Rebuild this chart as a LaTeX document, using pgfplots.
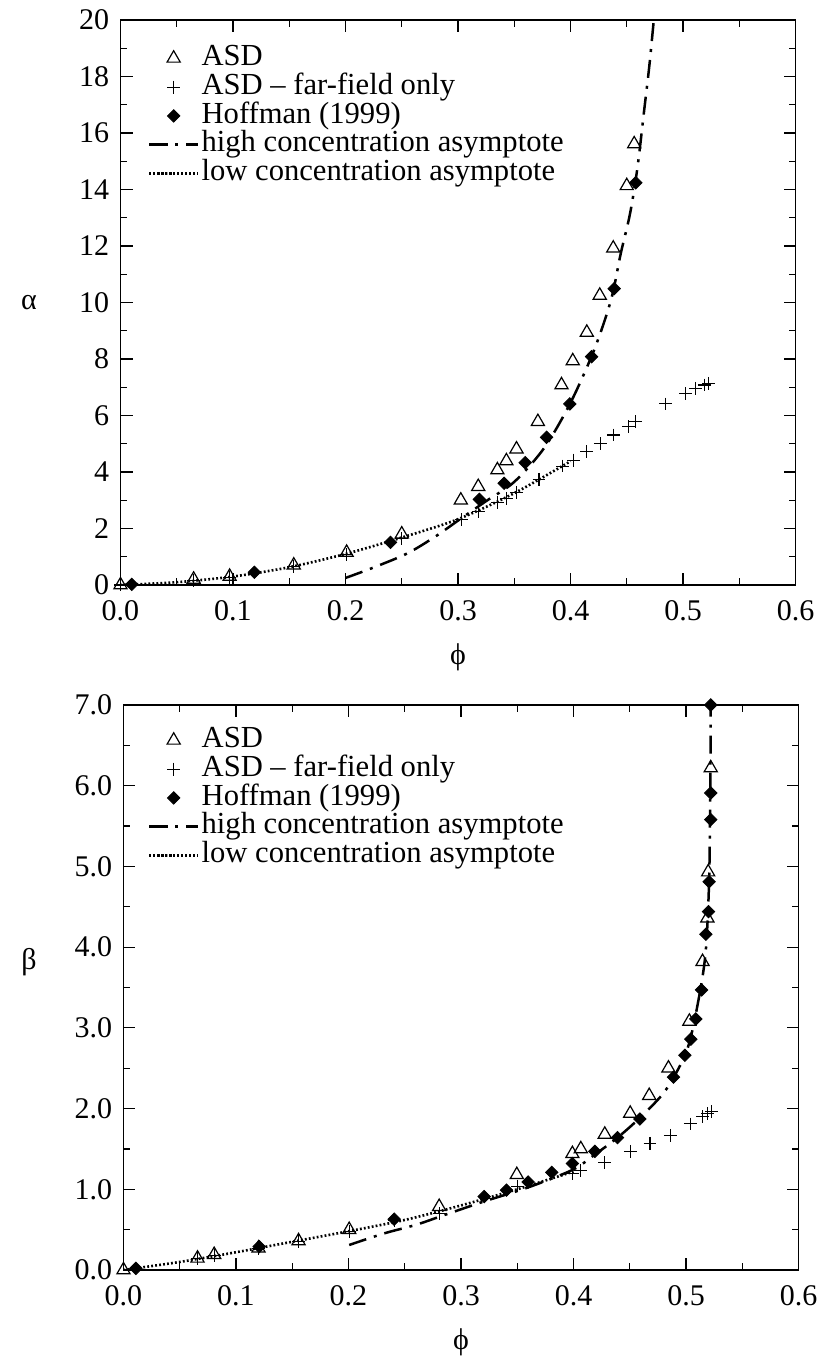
\documentclass[border=0pt]{standalone}
\usepackage{pgfplots}
\pgfplotsset{compat=1.18}
\usepackage{fontspec}
\setmainfont{Liberation Serif}
\begin{document}
\fontsize{15}{17}\selectfont
\pgfplotsset{
  every axis/.append style={
    scale only axis, width=337.5pt, height=282.5pt,
    xmin=0, xmax=0.6,
    xtick={0,0.1,0.2,0.3,0.4,0.5,0.6},
    minor x tick num=1, minor y tick num=1,
    tick align=inside,
    major tick length=6pt, minor tick length=3.5pt,
    axis line style={line width=0.7pt},
    every tick/.style={black, line width=0.6pt},
    /pgf/number format/assume math mode=true,
    xticklabel style={yshift=-2.5pt, /pgf/number format/fixed, /pgf/number format/zerofill, /pgf/number format/precision=1},
    yticklabel style={xshift=-0.5pt},
    tick label style={font=\fontsize{15}{17}\selectfont},
    label style={font=\fontsize{15}{17}\selectfont},
    every axis x label/.style={at={(rel axis cs:0.5,0)}, anchor=center, yshift=-36pt},
    legend cell align=left,
    legend style={draw=none, fill=none, inner sep=0pt, row sep=0pt,
      font=\fontsize{15.3}{17}\selectfont,
      nodes={text height=9.7pt, text depth=2.5pt, inner sep=1.1pt}},
    legend image code/.code={\draw[mark repeat=2,mark phase=2,#1] plot coordinates {(0cm,0cm) (0.43cm,0cm) (0.86cm,0cm)};},
    clip=true,
  },
  asd/.style={only marks, mark=triangle, mark size=3.8pt, mark options={black, line width=0.6pt, fill=white}},
  far/.style={only marks, mark=+, mark size=3.2pt, mark options={black, line width=0.55pt}},
  hof/.style={only marks, mark=square*, mark size=2.2pt, mark options={black, fill=black, rotate=45}},
  high/.style={black, line width=1.25pt, smooth, no marks, dash pattern=on 9pt off 4pt on 1.5pt off 4pt},
  low/.style={black, line width=1.3pt, smooth, no marks, dash pattern=on 0.9pt off 1.1pt},
}
\begin{tikzpicture}
\useasboundingbox (-56.5pt,-386pt) rectangle (349pt,292.5pt);
% ---------------- top: alpha ----------------
\begin{axis}[at={(0pt,0pt)}, anchor=south west,
  ymin=0, ymax=20, ytick={0,2,4,6,8,10,12,14,16,18,20},
  xlabel={ϕ}, ylabel={α},
  every axis y label/.style={at={(rel axis cs:0,0.5)}, anchor=center, xshift=-45.75pt},
  legend style={at={(axis description cs:0.04,0.9584)}, anchor=north west},
]
\addplot[asd] coordinates {
(0,0) (0.065,0.20) (0.097,0.30) (0.154,0.70) (0.201,1.15) (0.250,1.80)
(0.3025,3.00) (0.318,3.48) (0.335,4.07) (0.343,4.39) (0.352,4.81) (0.371,5.78)
(0.392,7.08) (0.402,7.93) (0.4145,8.94) (0.426,10.25) (0.438,11.92) (0.450,14.13) (0.4566,15.61)};
\addlegendentry{ASD}
\addplot[far] coordinates {
(0,0) (0.065,0.17) (0.097,0.27) (0.154,0.65) (0.201,1.08) (0.250,1.65)
(0.3031,2.32) (0.318,2.60) (0.335,2.91) (0.3434,3.07) (0.352,3.28) (0.372,3.74)
(0.3929,4.21) (0.4024,4.42) (0.4145,4.72) (0.4264,5.01) (0.4382,5.31) (0.4516,5.60)
(0.458,5.78) (0.4847,6.41) (0.5025,6.78) (0.5114,6.96) (0.519,7.08) (0.523,7.14)};
\addlegendentry{ASD -- far-field only}
\addplot[hof] coordinates {
(0.01,0.02) (0.119,0.45) (0.240,1.51) (0.319,3.03) (0.341,3.60) (0.3597,4.33)
(0.3787,5.23) (0.3994,6.41) (0.4187,8.08) (0.4388,10.49) (0.458,14.24)};
\addlegendentry{Hoffman (1999)}
\addplot[high] coordinates {
(0.2,0.25) (0.225,0.62) (0.255,1.12) (0.28,1.72) (0.3025,2.35) (0.325,2.97)
(0.35,3.65) (0.3766,4.85) (0.4,6.45) (0.421,8.32) (0.436,10.09) (0.4447,11.74)
(0.453,13.16) (0.4596,14.8) (0.4655,16.81) (0.47,18.35) (0.4738,19.9) (0.4755,20.6)};
\addlegendentry{high concentration asymptote}
\addplot[low] coordinates {
(0,0) (0.05,0.1) (0.1,0.3) (0.15,0.63) (0.2,1.1) (0.25,1.68) (0.3,2.33) (0.35,3.25) (0.4,4.38)};
\addlegendentry{low concentration asymptote}
\end{axis}
% ---------------- bottom: beta ----------------
\begin{axis}[at={(1.5pt,-342.5pt)}, anchor=south west,
  ymin=0, ymax=7, ytick={0,1,2,3,4,5,6,7},
  yticklabel style={/pgf/number format/fixed, /pgf/number format/zerofill, /pgf/number format/precision=1},
  xlabel={ϕ}, ylabel={β},
  every axis y label/.style={at={(rel axis cs:0,0.545)}, anchor=center, xshift=-47.25pt},
  legend style={at={(axis description cs:0.0356,0.9637)}, anchor=north west},
]
\addplot[asd] coordinates {
(0,0) (0.0658,0.145) (0.0806,0.19) (0.12,0.27) (0.1556,0.36) (0.2006,0.50)
(0.2806,0.785) (0.3496,1.18) (0.399,1.44) (0.4065,1.50) (0.4278,1.68) (0.4504,1.94)
(0.4673,2.16) (0.4844,2.50) (0.503,3.08) (0.5147,3.82) (0.519,4.36) (0.5197,4.93) (0.522,6.22)};
\addlegendentry{ASD}
\addplot[far] coordinates {
(0.0658,0.14) (0.0806,0.18) (0.12,0.27) (0.1556,0.35) (0.2006,0.48) (0.2406,0.61)
(0.2806,0.70) (0.35,1.04) (0.399,1.20) (0.4065,1.23) (0.4278,1.33) (0.4504,1.47)
(0.468,1.57) (0.486,1.67) (0.5037,1.81) (0.5147,1.90) (0.519,1.94) (0.5227,1.96)};
\addlegendentry{ASD -- far-field only}
\addplot[hof] coordinates {
(0.011,0.02) (0.1206,0.29) (0.2406,0.63) (0.3206,0.91) (0.3404,0.99) (0.3597,1.09)
(0.3807,1.21) (0.399,1.32) (0.419,1.47) (0.4391,1.64) (0.459,1.87) (0.4889,2.39)
(0.499,2.66) (0.5043,2.86) (0.5087,3.11) (0.5138,3.47) (0.5176,4.16) (0.52,4.44)
(0.5206,4.81) (0.522,5.58) (0.522,5.91) (0.522,7.0)};
\addlegendentry{Hoffman (1999)}
\addplot[high] coordinates {
(0.2006,0.31) (0.232,0.455) (0.26,0.56) (0.285,0.68) (0.3206,0.85) (0.359,1.02)
(0.399,1.24) (0.418,1.42) (0.44,1.65) (0.46,1.9) (0.482,2.23) (0.501,2.73)
(0.5117,3.39) (0.5176,3.96) (0.5205,4.8) (0.5215,5.8) (0.522,7.0)};
\addlegendentry{high concentration asymptote}
\addplot[low] coordinates {
(0,0) (0.05,0.1) (0.1,0.22) (0.15,0.35) (0.2,0.48) (0.25,0.62) (0.3,0.80) (0.35,1.0) (0.4,1.22)};
\addlegendentry{low concentration asymptote}
\end{axis}
\end{tikzpicture}
\end{document}
